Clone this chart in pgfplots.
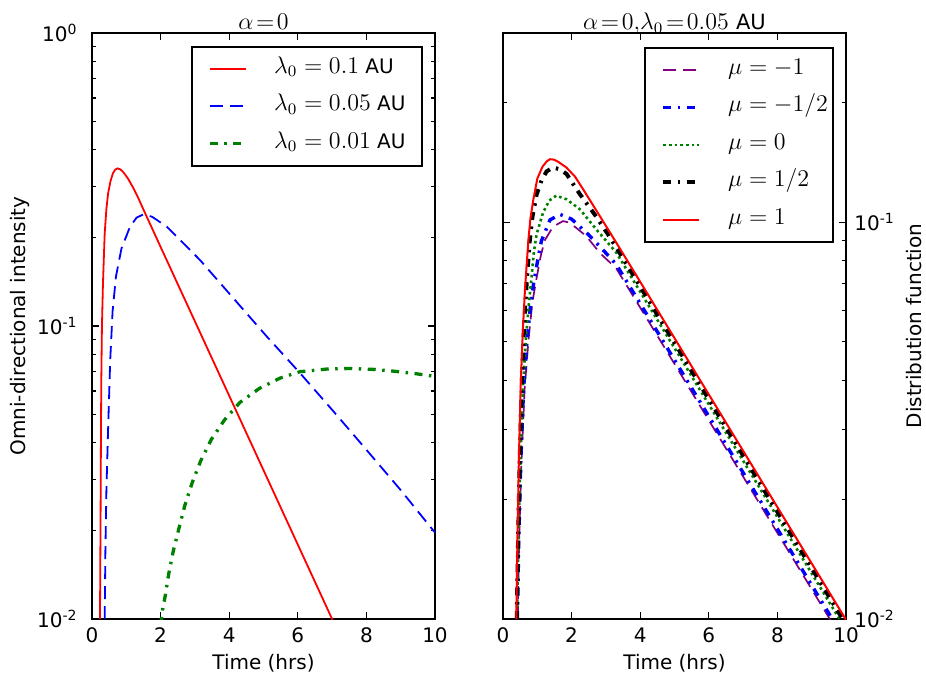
\documentclass[border=0pt]{standalone}
\usepackage{fontspec}
\setmainfont{DejaVu Sans}
\usepackage{pgfplots}
\pgfplotsset{compat=1.18}
\definecolor{mpgreen}{rgb}{0,0.5,0}
\definecolor{mppurple}{rgb}{0.5,0,0.5}
\pgfplotsset{
 mystyle/.style={
  scale only axis, width=171.5pt, height=293pt, xmin=0, xmax=10,
  xtick={0,2,4,6,8,10}, xticklabels={0,2,4,6,8,10},
  xticklabel style={anchor=base, yshift=-11.5pt, inner sep=0pt},
  major tick length=3.5pt, minor tick length=2pt,
  tick style={black, line width=0.6pt},
  axis line style={line width=0.8pt},
  xlabel={Time (hrs)},
  xlabel style={at={(axis description cs:0.5,-0.0751)}, anchor=center},
  title style={at={(axis description cs:0.5,1.0137)}, anchor=base, yshift=-8.25pt, inner sep=0pt, font=\fontsize{11.5}{13}\selectfont},
  legend cell align=left,
  legend image code/.code={\draw[##1] (0pt,0pt) -- (18pt,0pt);},
  legend style={at={(axis description cs:1,1)}, anchor=north east, xshift=-6pt, yshift=-6.5pt,
    draw=black, line width=0.8pt, inner xsep=8pt, inner ysep=6.25pt, row sep=9.25pt, column sep=13.5pt,
    nodes={inner sep=0pt, text height=7pt, text depth=2.5pt}, font=\fontsize{10}{12}\selectfont},
 }
}
\begin{document}
\begin{tikzpicture}
\useasboundingbox (-46pt,-28pt) rectangle (417pt,309.5pt);
\begin{semilogyaxis}[mystyle, at={(0pt,0pt)}, anchor=south west,
  ymin=0.01, ymax=1,
  ytick={0.01,0.1,1}, yticklabels={10\textsuperscript{-2},10\textsuperscript{-1},10\textsuperscript{0}},
  minor ytick={0.02,0.03,0.04,0.05,0.06,0.07,0.08,0.09,0.2,0.3,0.4,0.5,0.6,0.7,0.8,0.9},
  yticklabel style={anchor=east, inner sep=0pt, xshift=-7pt},
  ylabel={Omni-directional intensity},
  ylabel style={at={(axis description cs:-0.2099,0.5)}, anchor=center},
  title={$\mathchoice{}{}{}{}\alpha\mathrel{\mkern-3mu=\mkern-3mu}0$}]
\addplot[red, line width=0.9pt] coordinates {
(0.233,0.0100) (0.245,0.017783) (0.25,0.022336) (0.26,0.039811) (0.27,0.06368) (0.29,0.1000)
(0.32,0.13996) (0.37,0.20701) (0.42,0.25119) (0.47,0.28379) (0.54,0.31261) (0.61,0.33189)
(0.67,0.34119) (0.74,0.34514) (0.82,0.34277) (0.90,0.33651) (0.97,0.32810) (1.05,0.31842)
(1.2,0.29648) (1.34,0.27479) (1.58,0.23823) (2,0.18621)
(3,0.10375) (4,0.05781) (5,0.03221) (6,0.017947) (7,0.0100) (7.1,0.0094406)};
\addlegendentry{\makebox[66pt][l]{{\fontsize{12}{14}\selectfont$\lambda_0=0.1$} AU}}
\addplot[blue, line width=0.9pt, dash pattern=on 6.5pt off 3.5pt] coordinates {
(0.37,0.0100) (0.39,0.016982) (0.42,0.027542) (0.47,0.044668) (0.53,0.075858) (0.60,0.11220)
(0.70,0.14791) (0.86,0.18408) (1.11,0.21827) (1.30,0.23442) (1.50,0.24044) (1.75,0.23605)
(2.18,0.21827) (2.6,0.19498) (3.15,0.16788) (4.12,0.12445) (5.09,0.092257) (6.06,0.069183)
(7.03,0.051286) (7.91,0.038905) (9.0,0.027542) (10,0.019724)};
\addlegendentry{\makebox[66pt][l]{{\fontsize{12}{14}\selectfont$\lambda_0=0.05$} AU}}
\addplot[mpgreen, line width=1.65pt, dash pattern=on 4pt off 3.25pt on 1.25pt off 3.25pt] coordinates {
(2.00,0.0095499) (2.06,0.010789) (2.13,0.011912) (2.24,0.014322) (2.37,0.017061) (2.54,0.020512)
(2.71,0.024491) (2.92,0.029174) (3.17,0.034674) (3.48,0.041020) (3.86,0.047753) (4.31,0.054828)
(4.88,0.061235) (5.48,0.066374) (6.06,0.069823) (6.84,0.071285) (7.52,0.071614) (8.2,0.071121)
(8.78,0.070146) (9.4,0.068865) (10,0.067298)};
\addlegendentry{\makebox[66pt][l]{{\fontsize{12}{14}\selectfont$\lambda_0=0.01$} AU}}
\end{semilogyaxis}
\begin{semilogyaxis}[mystyle, at={(205.5pt,0pt)}, anchor=south west,
  ymin=0.01, ymax=0.3,
  ytick={0.01,0.1}, yticklabels={10\textsuperscript{-2},10\textsuperscript{-1}},
  minor ytick={0.02,0.03,0.04,0.05,0.06,0.07,0.08,0.09,0.2,0.3},
  yticklabel pos=right,
  yticklabel style={anchor=west, inner sep=0pt, xshift=4pt},
  ylabel={Distribution function},
  ylabel style={at={(axis description cs:1.198,0.5)}, anchor=center},
  title={$\alpha\mathrel{\mkern-3mu=\mkern-3mu}0{,}\lambda_0\mathrel{\mkern-3mu=\mkern-3mu}0.05$ {\fontsize{10.5}{12}\selectfont AU}},
  legend style={yshift=-0.5pt}]
\addplot[mppurple, line width=0.85pt, dash pattern=on 6.5pt off 3.5pt] coordinates {
(0.43,0.0100) (0.47,0.015849) (0.54,0.025119) (0.63,0.038019) (0.75,0.051286) (0.86,0.063096)
(0.98,0.072444) (1.10,0.082224) (1.22,0.090157) (1.46,0.097499) (1.75,0.10069) (1.95,0.099770)
(2.43,0.092257) (2.82,0.083753) (3.3,0.076560) (4,0.060954) (5,0.043954) (6,0.031696)
(7,0.022856) (8,0.016482) (9,0.011885) (10,0.0085704)};
\addlegendentry{\makebox[44.5pt][l]{\fontsize{12}{14}\selectfont$\mu=-1$}}
\addplot[blue, line width=1.7pt, dash pattern=on 4pt off 3.25pt on 1.25pt off 3.25pt] coordinates {
(0.42,0.0100) (0.46,0.015849) (0.52,0.025119) (0.60,0.038019) (0.70,0.050119) (0.80,0.061660)
(0.88,0.069024) (0.99,0.078343) (1.12,0.089743) (1.37,0.10139) (1.66,0.10471) (2.0,0.10186)
(2.48,0.093325) (2.92,0.085114) (3.3,0.078343) (4,0.062373) (5,0.044978) (6,0.032434)
(7,0.023388) (8,0.016866) (9,0.012162) (10,0.0087700)};
\addlegendentry{\makebox[44.5pt][l]{\fontsize{12}{14}\selectfont$\mu=-1/2$}}
\addplot[mpgreen, line width=1.3pt, dash pattern=on 1.3pt off 1.55pt] coordinates {
(0.41,0.0100) (0.45,0.015849) (0.51,0.025704) (0.58,0.038019) (0.67,0.051286) (0.76,0.063096)
(0.83,0.072444) (0.90,0.084140) (0.98,0.093325) (1.17,0.10593) (1.35,0.11350) (1.55,0.11668)
(1.85,0.11429) (2.24,0.10789) (2.72,0.095940) (3.3,0.083946) (4,0.066834) (5,0.048195)
(6,0.034754) (7,0.025061) (8,0.018072) (9,0.013032) (10,0.0093972)};
\addlegendentry{\makebox[44.5pt][l]{\fontsize{12}{14}\selectfont$\mu=0$}}
\addplot[black, line width=2pt, dash pattern=on 4pt off 3.25pt on 1.25pt off 3.25pt] coordinates {
(0.40,0.0100) (0.44,0.015849) (0.49,0.025704) (0.55,0.039811) (0.62,0.056234) (0.70,0.072444)
(0.78,0.089743) (0.86,0.10351) (0.98,0.11749) (1.12,0.12735) (1.27,0.13428) (1.45,0.13740)
(1.65,0.13614) (1.85,0.13243) (2.24,0.11776) (2.67,0.10471) (3.06,0.093325) (3.3,0.086497)
(4,0.068865) (5,0.049659) (6,0.035810) (7,0.025823) (8,0.018621) (9,0.013428) (10,0.0096828)};
\addlegendentry{\makebox[44.5pt][l]{\fontsize{12}{14}\selectfont$\mu=1/2$}}
\addplot[red, line width=1pt] coordinates {
(0.387,0.0100) (0.42,0.015849) (0.465,0.025882) (0.52,0.039811) (0.58,0.053703) (0.64,0.067608)
(0.74,0.090157) (0.80,0.10233) (0.88,0.11350) (1.0,0.12882) (1.15,0.13804) (1.28,0.14256)
(1.37,0.14421) (1.48,0.14388) (1.6,0.14223) (1.85,0.13740) (2.1,0.13032) (2.33,0.12134)
(2.82,0.10375) (3.30,0.088920) (4,0.070795) (5,0.051050)
(6,0.036813) (7,0.026546) (8,0.019143) (9,0.013804) (10,0.0099541)};
\addlegendentry{\makebox[44.5pt][l]{\fontsize{12}{14}\selectfont$\mu=1$}}
\end{semilogyaxis}
\end{tikzpicture}
\end{document}
